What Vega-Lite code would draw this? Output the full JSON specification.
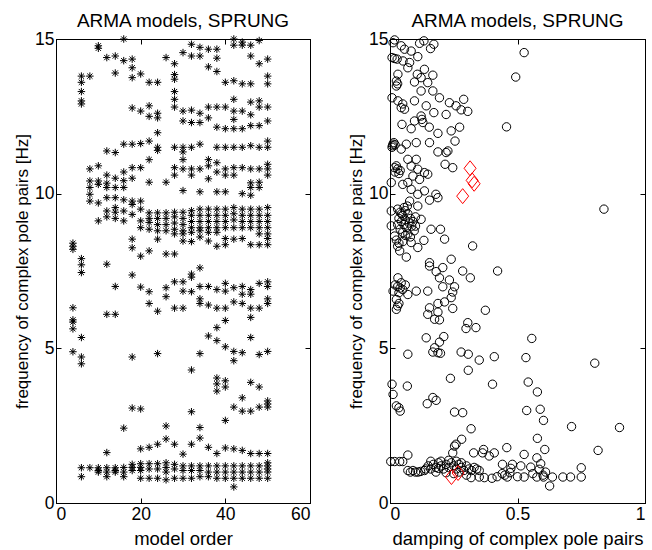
{
"$schema":"https://vega.github.io/schema/vega-lite/v6.json",
"padding":{"left":13,"top":11,"right":0,"bottom":0},
"bounds":"flush",
"spacing":80,
"config":{
"font":"Liberation Sans",
"view":{"stroke":"black","strokeWidth":1},
"axis":{"grid":false,"domainColor":"black","domainWidth":1,"tickColor":"black","labelColor":"black","titleColor":"black","labelFontSize":17.5,"titleFontSize":17,"titleFontWeight":"normal","tickSize":-5,"labelPadding":7,"titlePadding":3,"labelFont":"Liberation Sans","titleFont":"Liberation Sans"},
"axisX":{"titleFontSize":18.5,"titlePadding":7},
"title":{"fontSize":19,"fontWeight":"normal","color":"black","offset":-1,"font":"Liberation Sans"}
},
"datasets":{
"L":[
{"n":4,"f":8.4},{"n":4,"f":8.3},{"n":4,"f":8.2},{"n":4,"f":6.31},{"n":4,"f":5.92},{"n":4,"f":5.85},{"n":4,"f":5.63},{"n":4,"f":4.89},
{"n":6,"f":13.8},{"n":6,"f":13.6},{"n":6,"f":13.3},{"n":6,"f":13.0},{"n":6,"f":12.9},{"n":6,"f":7.9},{"n":6,"f":7.7},{"n":6,"f":7.45},{"n":6,"f":5.35},{"n":6,"f":4.72},{"n":6,"f":4.5},{"n":6,"f":1.14},{"n":6,"f":0.85},
{"n":8,"f":13.8},{"n":8,"f":10.8},{"n":8,"f":10.41},{"n":8,"f":10.2},{"n":8,"f":9.98},{"n":8,"f":9.76},{"n":8,"f":1.14},
{"n":10,"f":14.78},{"n":10,"f":14.7},{"n":10,"f":10.9},{"n":10,"f":10.41},{"n":10,"f":10.3},{"n":10,"f":9.7},{"n":10,"f":9.12},{"n":10,"f":1.14},{"n":10,"f":1.05},{"n":10,"f":1.0},
{"n":12,"f":14.4},{"n":12,"f":11.38},{"n":12,"f":10.6},{"n":12,"f":10.34},{"n":12,"f":10.2},{"n":12,"f":9.87},{"n":12,"f":9.44},{"n":12,"f":9.25},{"n":12,"f":7.72},{"n":12,"f":6.1},{"n":12,"f":1.63},{"n":12,"f":1.14},{"n":12,"f":1.0},{"n":12,"f":0.85},
{"n":14,"f":14.45},{"n":14,"f":13.9},{"n":14,"f":11.33},{"n":14,"f":10.5},{"n":14,"f":10.2},{"n":14,"f":9.87},{"n":14,"f":9.55},{"n":14,"f":9.4},{"n":14,"f":9.2},{"n":14,"f":7.0},{"n":14,"f":6.1},{"n":14,"f":1.14},{"n":14,"f":1.05},{"n":14,"f":1.0},
{"n":16,"f":15.0},{"n":16,"f":14.3},{"n":16,"f":11.6},{"n":16,"f":10.7},{"n":16,"f":10.42},{"n":16,"f":10.2},{"n":16,"f":9.8},{"n":16,"f":9.44},{"n":16,"f":9.12},{"n":16,"f":2.42},{"n":16,"f":1.15},{"n":16,"f":1.0},{"n":16,"f":0.85},
{"n":18,"f":14.35},{"n":18,"f":14.07},{"n":18,"f":13.75},{"n":18,"f":12.77},{"n":18,"f":11.6},{"n":18,"f":10.84},{"n":18,"f":10.5},{"n":18,"f":9.76},{"n":18,"f":9.65},{"n":18,"f":9.33},{"n":18,"f":8.53},{"n":18,"f":8.25},{"n":18,"f":7.37},{"n":18,"f":4.72},{"n":18,"f":3.07},{"n":18,"f":1.25},{"n":18,"f":1.15},{"n":18,"f":1.05},
{"n":20,"f":13.87},{"n":20,"f":12.67},{"n":20,"f":11.62},{"n":20,"f":10.84},{"n":20,"f":9.76},{"n":20,"f":9.5},{"n":20,"f":9.12},{"n":20,"f":8.9},{"n":20,"f":7.98},{"n":20,"f":6.98},{"n":20,"f":3.04},{"n":20,"f":1.75},{"n":20,"f":1.27},{"n":20,"f":1.15},{"n":20,"f":1.05},{"n":20,"f":0.8},
{"n":22,"f":13.6},{"n":22,"f":12.84},{"n":22,"f":12.5},{"n":22,"f":11.7},{"n":22,"f":11.1},{"n":22,"f":10.37},{"n":22,"f":9.38},{"n":22,"f":9.2},{"n":22,"f":9.07},{"n":22,"f":8.85},{"n":22,"f":8.15},{"n":22,"f":6.83},{"n":22,"f":6.45},{"n":22,"f":1.8},{"n":22,"f":1.27},{"n":22,"f":1.1},{"n":22,"f":0.8},
{"n":24,"f":13.6},{"n":24,"f":12.6},{"n":24,"f":12.45},{"n":24,"f":11.97},{"n":24,"f":11.5},{"n":24,"f":11.4},{"n":24,"f":9.38},{"n":24,"f":9.2},{"n":24,"f":9.0},{"n":24,"f":8.8},{"n":24,"f":8.53},{"n":24,"f":6.2},{"n":24,"f":4.83},{"n":24,"f":1.9},{"n":24,"f":1.27},{"n":24,"f":1.1},{"n":24,"f":0.8},
{"n":26,"f":14.4},{"n":26,"f":10.37},{"n":26,"f":9.38},{"n":26,"f":9.2},{"n":26,"f":9.0},{"n":26,"f":8.8},{"n":26,"f":8.05},{"n":26,"f":6.96},{"n":26,"f":6.67},{"n":26,"f":2.49},{"n":26,"f":2.07},{"n":26,"f":1.3},{"n":26,"f":1.15},{"n":26,"f":1.0},{"n":26,"f":0.75},
{"n":28,"f":14.2},{"n":28,"f":13.85},{"n":28,"f":13.7},{"n":28,"f":13.3},{"n":28,"f":13.05},{"n":28,"f":12.8},{"n":28,"f":11.5},{"n":28,"f":10.84},{"n":28,"f":10.6},{"n":28,"f":9.4},{"n":28,"f":9.25},{"n":28,"f":9.05},{"n":28,"f":8.85},{"n":28,"f":8.7},{"n":28,"f":8.05},{"n":28,"f":7.15},{"n":28,"f":6.3},{"n":28,"f":1.9},{"n":28,"f":1.25},{"n":28,"f":1.1},{"n":28,"f":0.8},
{"n":30,"f":14.56},{"n":30,"f":12.67},{"n":30,"f":12.35},{"n":30,"f":11.5},{"n":30,"f":11.35},{"n":30,"f":11.1},{"n":30,"f":10.8},{"n":30,"f":10.1},{"n":30,"f":9.4},{"n":30,"f":9.2},{"n":30,"f":9.0},{"n":30,"f":8.8},{"n":30,"f":8.7},{"n":30,"f":8.47},{"n":30,"f":7.15},{"n":30,"f":6.85},{"n":30,"f":6.3},{"n":30,"f":1.58},{"n":30,"f":1.2},{"n":30,"f":1.05},{"n":30,"f":0.8},
{"n":32,"f":14.83},{"n":32,"f":14.45},{"n":32,"f":12.7},{"n":32,"f":12.3},{"n":32,"f":11.5},{"n":32,"f":10.8},{"n":32,"f":10.6},{"n":32,"f":9.45},{"n":32,"f":9.3},{"n":32,"f":9.1},{"n":32,"f":8.9},{"n":32,"f":8.75},{"n":32,"f":8.45},{"n":32,"f":7.4},{"n":32,"f":7.3},{"n":32,"f":6.83},{"n":32,"f":4.3},{"n":32,"f":2.95},{"n":32,"f":1.9},{"n":32,"f":1.2},{"n":32,"f":1.05},{"n":32,"f":0.8},
{"n":34,"f":14.73},{"n":34,"f":14.45},{"n":34,"f":12.6},{"n":34,"f":12.3},{"n":34,"f":11.6},{"n":34,"f":10.8},{"n":34,"f":10.06},{"n":34,"f":9.5},{"n":34,"f":9.3},{"n":34,"f":9.1},{"n":34,"f":8.9},{"n":34,"f":8.8},{"n":34,"f":8.6},{"n":34,"f":7.6},{"n":34,"f":7.0},{"n":34,"f":6.6},{"n":34,"f":6.45},{"n":34,"f":4.83},{"n":34,"f":2.44},{"n":34,"f":2.1},{"n":34,"f":1.2},{"n":34,"f":1.05},{"n":34,"f":0.85},
{"n":36,"f":14.67},{"n":36,"f":14.1},{"n":36,"f":12.8},{"n":36,"f":12.45},{"n":36,"f":11.1},{"n":36,"f":10.9},{"n":36,"f":10.48},{"n":36,"f":9.5},{"n":36,"f":9.3},{"n":36,"f":9.1},{"n":36,"f":8.9},{"n":36,"f":8.75},{"n":36,"f":8.47},{"n":36,"f":7.0},{"n":36,"f":6.4},{"n":36,"f":5.4},{"n":36,"f":1.8},{"n":36,"f":1.2},{"n":36,"f":1.0},{"n":36,"f":0.85},
{"n":38,"f":14.67},{"n":38,"f":14.38},{"n":38,"f":13.95},{"n":38,"f":12.8},{"n":38,"f":12.15},{"n":38,"f":11.5},{"n":38,"f":11.0},{"n":38,"f":10.7},{"n":38,"f":10.06},{"n":38,"f":9.5},{"n":38,"f":9.3},{"n":38,"f":9.1},{"n":38,"f":8.9},{"n":38,"f":8.75},{"n":38,"f":8.3},{"n":38,"f":6.9},{"n":38,"f":6.3},{"n":38,"f":5.67},{"n":38,"f":5.25},{"n":38,"f":4.04},{"n":38,"f":3.85},{"n":38,"f":3.62},{"n":38,"f":1.6},{"n":38,"f":1.2},{"n":38,"f":1.0},{"n":38,"f":0.8},
{"n":40,"f":13.6},{"n":40,"f":12.8},{"n":40,"f":12.1},{"n":40,"f":11.5},{"n":40,"f":10.8},{"n":40,"f":10.6},{"n":40,"f":10.06},{"n":40,"f":9.5},{"n":40,"f":9.3},{"n":40,"f":9.1},{"n":40,"f":8.9},{"n":40,"f":8.55},{"n":40,"f":8.35},{"n":40,"f":7.1},{"n":40,"f":6.85},{"n":40,"f":6.3},{"n":40,"f":5.9},{"n":40,"f":5.05},{"n":40,"f":3.95},{"n":40,"f":3.75},{"n":40,"f":2.67},{"n":40,"f":1.78},{"n":40,"f":1.2},{"n":40,"f":1.0},{"n":40,"f":0.8},
{"n":42,"f":15.0},{"n":42,"f":14.8},{"n":42,"f":13.65},{"n":42,"f":13.05},{"n":42,"f":12.67},{"n":42,"f":12.4},{"n":42,"f":12.1},{"n":42,"f":11.5},{"n":42,"f":10.84},{"n":42,"f":10.6},{"n":42,"f":9.55},{"n":42,"f":9.35},{"n":42,"f":9.15},{"n":42,"f":8.9},{"n":42,"f":8.53},{"n":42,"f":6.96},{"n":42,"f":6.5},{"n":42,"f":4.9},{"n":42,"f":4.6},{"n":42,"f":3.1},{"n":42,"f":1.75},{"n":42,"f":1.2},{"n":42,"f":1.0},{"n":42,"f":0.8},{"n":42,"f":0.52},
{"n":44,"f":14.9},{"n":44,"f":14.8},{"n":44,"f":13.55},{"n":44,"f":12.67},{"n":44,"f":12.1},{"n":44,"f":11.5},{"n":44,"f":10.84},{"n":44,"f":10.0},{"n":44,"f":9.5},{"n":44,"f":9.3},{"n":44,"f":9.1},{"n":44,"f":8.9},{"n":44,"f":8.55},{"n":44,"f":7.0},{"n":44,"f":6.75},{"n":44,"f":6.45},{"n":44,"f":4.86},{"n":44,"f":3.4},{"n":44,"f":2.97},{"n":44,"f":1.7},{"n":44,"f":1.2},{"n":44,"f":1.0},{"n":44,"f":0.8},
{"n":46,"f":14.8},{"n":46,"f":14.45},{"n":46,"f":13.55},{"n":46,"f":12.96},{"n":46,"f":12.55},{"n":46,"f":12.2},{"n":46,"f":11.55},{"n":46,"f":10.8},{"n":46,"f":10.35},{"n":46,"f":10.2},{"n":46,"f":9.95},{"n":46,"f":9.5},{"n":46,"f":9.3},{"n":46,"f":9.1},{"n":46,"f":8.9},{"n":46,"f":8.35},{"n":46,"f":6.9},{"n":46,"f":6.75},{"n":46,"f":6.3},{"n":46,"f":6.0},{"n":46,"f":5.35},{"n":46,"f":3.9},{"n":46,"f":2.97},{"n":46,"f":1.6},{"n":46,"f":1.2},{"n":46,"f":1.0},{"n":46,"f":0.8},
{"n":48,"f":14.95},{"n":48,"f":14.2},{"n":48,"f":13.0},{"n":48,"f":12.8},{"n":48,"f":12.2},{"n":48,"f":11.5},{"n":48,"f":10.8},{"n":48,"f":10.37},{"n":48,"f":10.2},{"n":48,"f":9.5},{"n":48,"f":9.3},{"n":48,"f":9.1},{"n":48,"f":8.9},{"n":48,"f":8.7},{"n":48,"f":8.35},{"n":48,"f":7.1},{"n":48,"f":6.3},{"n":48,"f":4.8},{"n":48,"f":3.75},{"n":48,"f":3.1},{"n":48,"f":1.6},{"n":48,"f":1.2},{"n":48,"f":1.0},{"n":48,"f":0.8},
{"n":50,"f":14.35},{"n":50,"f":13.8},{"n":50,"f":13.55},{"n":50,"f":12.8},{"n":50,"f":12.35},{"n":50,"f":11.7},{"n":50,"f":11.5},{"n":50,"f":10.95},{"n":50,"f":10.8},{"n":50,"f":10.6},{"n":50,"f":9.55},{"n":50,"f":9.3},{"n":50,"f":9.1},{"n":50,"f":8.9},{"n":50,"f":8.7},{"n":50,"f":8.55},{"n":50,"f":8.35},{"n":50,"f":7.15},{"n":50,"f":7.0},{"n":50,"f":6.6},{"n":50,"f":6.45},{"n":50,"f":4.9},{"n":50,"f":3.3},{"n":50,"f":3.2},{"n":50,"f":3.1},{"n":50,"f":1.6},{"n":50,"f":1.3},{"n":50,"f":1.2},{"n":50,"f":1.1},{"n":50,"f":1.0},{"n":50,"f":0.8}
],
"R":[
{"d":0.018,"f":14.97},{"d":0.012,"f":14.88},{"d":0.044,"f":14.78},{"d":0.116,"f":14.86},{"d":0.133,"f":14.94},{"d":0.172,"f":14.83},{"d":0.159,"f":14.69},{"d":0.057,"f":14.67},{"d":0.083,"f":14.61},{"d":0.008,"f":14.4},{"d":0.018,"f":14.37},{"d":0.028,"f":14.35},{"d":0.109,"f":14.43},{"d":0.051,"f":14.29},{"d":0.077,"f":14.24},{"d":0.07,"f":14.07},{"d":0.526,"f":14.56},{"d":0.493,"f":13.77},{"d":0.031,"f":13.86},{"d":0.135,"f":14.02},{"d":0.107,"f":13.86},{"d":0.122,"f":13.75},{"d":0.168,"f":13.83},{"d":0.025,"f":13.64},{"d":0.025,"f":13.48},{"d":0.03,"f":13.55},{"d":0.096,"f":13.61},{"d":0.148,"f":13.59},{"d":0.122,"f":13.32},{"d":0.168,"f":13.32},{"d":0.008,"f":13.1},{"d":0.031,"f":13.0},{"d":0.057,"f":12.73},{"d":0.044,"f":12.78},{"d":0.05,"f":12.9},{"d":0.096,"f":13.0},{"d":0.142,"f":12.84},{"d":0.194,"f":13.1},{"d":0.233,"f":12.94},{"d":0.289,"f":13.05},{"d":0.259,"f":12.84},{"d":0.279,"f":12.71},{"d":0.305,"f":12.66},{"d":0.22,"f":12.56},{"d":0.172,"f":12.62},{"d":0.122,"f":12.51},{"d":0.129,"f":12.3},{"d":0.125,"f":12.4},{"d":0.096,"f":12.35},{"d":0.047,"f":12.24},{"d":0.083,"f":12.1},{"d":0.154,"f":12.15},{"d":0.188,"f":11.95},{"d":0.24,"f":12.03},{"d":0.273,"f":12.15},{"d":0.457,"f":12.16},{"d":0.255,"f":11.7},{"d":0.012,"f":11.6},{"d":0.01,"f":11.55},{"d":0.015,"f":11.65},{"d":0.008,"f":11.5},{"d":0.02,"f":11.58},{"d":0.064,"f":11.6},{"d":0.103,"f":11.65},{"d":0.155,"f":11.65},{"d":0.044,"f":11.44},{"d":0.188,"f":11.35},{"d":0.227,"f":11.38},{"d":0.22,"f":11.33},{"d":0.07,"f":11.11},{"d":0.103,"f":11.11},{"d":0.216,"f":10.95},{"d":0.246,"f":10.84},
{"d":0.018,"f":10.84},{"d":0.03,"f":10.8},{"d":0.02,"f":10.7},{"d":0.035,"f":10.65},{"d":0.025,"f":10.9},{"d":0.04,"f":10.75},{"d":0.083,"f":10.89},{"d":0.109,"f":10.79},{"d":0.135,"f":10.68},{"d":0.148,"f":10.63},{"d":0.09,"f":10.57},{"d":0.116,"f":10.46},{"d":0.07,"f":10.36},{"d":0.05,"f":10.3},{"d":0.005,"f":10.36},{"d":0.083,"f":10.14},{"d":0.135,"f":10.09},{"d":0.18,"f":9.98},{"d":0.188,"f":9.87},{"d":0.109,"f":9.98},{"d":0.155,"f":9.79},{"d":0.077,"f":9.76},{"d":0.109,"f":9.6},{"d":0.839,"f":9.5},
{"d":0.005,"f":9.44},{"d":0.005,"f":8.96},{"d":0.03,"f":9.5},{"d":0.04,"f":9.4},{"d":0.05,"f":9.3},{"d":0.06,"f":9.45},{"d":0.07,"f":9.35},{"d":0.08,"f":9.2},{"d":0.09,"f":9.1},{"d":0.035,"f":9.2},{"d":0.045,"f":9.1},{"d":0.055,"f":9.0},{"d":0.065,"f":8.9},{"d":0.075,"f":9.05},{"d":0.085,"f":8.95},{"d":0.095,"f":8.8},{"d":0.04,"f":8.85},{"d":0.05,"f":8.75},{"d":0.06,"f":8.65},{"d":0.07,"f":8.7},{"d":0.08,"f":8.6},{"d":0.03,"f":9.0},{"d":0.06,"f":9.15},{"d":0.1,"f":9.25},{"d":0.1,"f":8.95},{"d":0.045,"f":9.35},{"d":0.055,"f":9.55},{"d":0.068,"f":9.6},{"d":0.122,"f":9.17},{"d":0.161,"f":8.85},{"d":0.198,"f":8.85},{"d":0.214,"f":8.53},{"d":0.133,"f":8.49},{"d":0.018,"f":8.63},{"d":0.025,"f":8.5},{"d":0.035,"f":8.4},{"d":0.05,"f":8.45},{"d":0.03,"f":8.3},{"d":0.083,"f":8.42},{"d":0.109,"f":8.26},{"d":0.038,"f":8.15},{"d":0.064,"f":7.95},{"d":0.324,"f":8.31},{"d":0.24,"f":7.88},{"d":0.155,"f":7.77},{"d":0.207,"f":7.61},{"d":0.285,"f":7.5},{"d":0.422,"f":7.5},{"d":0.181,"f":7.48},
{"d":0.315,"f":7.28},{"d":0.155,"f":7.66},{"d":0.194,"f":7.28},{"d":0.233,"f":7.21},{"d":0.031,"f":7.28},{"d":0.044,"f":7.12},{"d":0.03,"f":7.0},{"d":0.04,"f":6.95},{"d":0.05,"f":6.9},{"d":0.02,"f":7.05},{"d":0.06,"f":7.05},{"d":0.035,"f":6.8},{"d":0.012,"f":6.85},{"d":0.253,"f":6.99},{"d":0.246,"f":6.82},{"d":0.207,"f":6.99},{"d":0.07,"f":6.74},{"d":0.103,"f":6.85},{"d":0.148,"f":6.85},{"d":0.24,"f":6.64},{"d":0.214,"f":6.5},{"d":0.188,"f":6.45},{"d":0.025,"f":6.58},{"d":0.03,"f":6.37},{"d":0.025,"f":6.26},{"d":0.035,"f":6.45},{"d":0.155,"f":6.31},{"d":0.148,"f":6.1},{"d":0.188,"f":6.17},{"d":0.175,"f":5.94},{"d":0.194,"f":5.92},{"d":0.246,"f":6.29},{"d":0.374,"f":6.23},{"d":0.305,"f":5.83},{"d":0.298,"f":5.64},{"d":0.337,"f":5.67},{"d":0.142,"f":5.34},{"d":0.211,"f":5.38},{"d":0.194,"f":5.2},{"d":0.556,"f":5.32},{"d":0.175,"f":5.02},{"d":0.168,"f":4.88},{"d":0.188,"f":4.86},{"d":0.198,"f":4.84},{"d":0.07,"f":4.81},{"d":0.279,"f":4.88},{"d":0.307,"f":4.81},{"d":0.35,"f":4.62},{"d":0.409,"f":4.73},{"d":0.533,"f":4.7},{"d":0.803,"f":4.52},{"d":0.307,"f":4.29},{"d":0.237,"f":4.03},{"d":0.008,"f":3.84},{"d":0.068,"f":3.78},{"d":0.402,"f":3.84},{"d":0.542,"f":3.91},{"d":0.012,"f":3.51},{"d":0.578,"f":3.59},{"d":0.168,"f":3.41},{"d":0.181,"f":3.32},{"d":0.146,"f":3.21},{"d":0.025,"f":3.14},{"d":0.035,"f":3.08},{"d":0.04,"f":2.97},{"d":0.253,"f":2.94},{"d":0.285,"f":2.92},{"d":0.536,"f":2.99},{"d":0.589,"f":3.03},{"d":0.602,"f":2.67},{"d":0.712,"f":2.47},{"d":0.9,"f":2.44},{"d":0.318,"f":2.4},{"d":0.578,"f":2.09},{"d":0.281,"f":2.06},{"d":0.259,"f":1.9},{"d":0.253,"f":1.84},{"d":0.607,"f":1.73},{"d":0.816,"f":1.7},{"d":0.246,"f":1.62},{"d":0.328,"f":1.62},{"d":0.367,"f":1.73},{"d":0.363,"f":1.62},{"d":0.389,"f":1.52},{"d":0.409,"f":1.62},{"d":0.458,"f":1.79},{"d":0.526,"f":1.57},{"d":0.576,"f":1.46},{"d":0.07,"f":1.55},{"d":0.591,"f":1.27},{"d":0.75,"f":1.14},{"d":0.003,"f":1.34},{"d":0.018,"f":1.34},{"d":0.038,"f":1.34},{"d":0.05,"f":1.34},
{"d":0.07,"f":1.05},{"d":0.08,"f":1.0},{"d":0.09,"f":1.05},{"d":0.1,"f":1.0},{"d":0.11,"f":1.0},{"d":0.12,"f":1.02},{"d":0.135,"f":1.05},{"d":0.15,"f":1.2},{"d":0.16,"f":1.1},{"d":0.17,"f":1.25},{"d":0.18,"f":1.15},{"d":0.19,"f":1.3},{"d":0.2,"f":1.2},{"d":0.21,"f":1.1},{"d":0.22,"f":1.25},{"d":0.23,"f":1.15},{"d":0.24,"f":1.3},{"d":0.25,"f":1.2},{"d":0.26,"f":1.1},{"d":0.27,"f":1.25},{"d":0.28,"f":1.15},{"d":0.29,"f":1.05},{"d":0.3,"f":1.2},{"d":0.31,"f":1.1},{"d":0.32,"f":1.05},{"d":0.33,"f":1.15},{"d":0.34,"f":1.1},{"d":0.35,"f":1.05},{"d":0.16,"f":1.35},{"d":0.2,"f":1.35},{"d":0.23,"f":1.38},{"d":0.26,"f":1.35},{"d":0.18,"f":1.0},{"d":0.22,"f":0.98},{"d":0.25,"f":0.95},{"d":0.3,"f":0.9},{"d":0.27,"f":1.0},{"d":0.14,"f":1.1},{"d":0.19,"f":1.12},{"d":0.28,"f":1.3},
{"d":0.441,"f":1.25},{"d":0.474,"f":1.12},{"d":0.48,"f":1.25},{"d":0.513,"f":1.2},{"d":0.552,"f":1.16},{"d":0.585,"f":1.09},{"d":0.44,"f":0.95},{"d":0.45,"f":0.9},{"d":0.47,"f":0.98},{"d":0.37,"f":0.82},{"d":0.4,"f":0.8},{"d":0.526,"f":0.84},{"d":0.576,"f":0.84},{"d":0.602,"f":0.84},{"d":0.637,"f":0.84},{"d":0.678,"f":0.84},{"d":0.708,"f":0.84},{"d":0.75,"f":0.84},{"d":0.626,"f":0.55},{"d":0.318,"f":0.82},{"d":0.35,"f":0.84},{"d":0.42,"f":0.85},{"d":0.5,"f":0.85},{"d":0.46,"f":0.84},{"d":0.56,"f":0.95},{"d":0.6,"f":0.9},{"d":0.61,"f":1.0}
],
"D":[
{"d":0.314,"f":10.82},{"d":0.322,"f":10.43},{"d":0.33,"f":10.32},{"d":0.285,"f":9.92},{"d":0.241,"f":0.84},{"d":0.267,"f":0.97}
]
},
"hconcat":[
{"width":254,"height":464,"title":"ARMA models, SPRUNG",
"layer":[
{"data":{"name":"L"},"mark":{"type":"point","shape":"M-1,0L1,0M0,-1L0,1M-0.7,-0.7L0.7,0.7M-0.7,0.7L0.7,-0.7","size":56,"stroke":"black","strokeWidth":1,"filled":false,"opacity":1},
"encoding":{
"x":{"field":"n","type":"quantitative","scale":{"domain":[0,60],"nice":false,"zero":false},"axis":{"values":[0,20,40,60],"title":"model order"}},
"y":{"field":"f","type":"quantitative","scale":{"domain":[0,15],"nice":false},"axis":{"values":[0,5,10,15],"title":"frequency of complex pole pairs [Hz]"}}}},
{"data":{"name":"L"},"mark":{"type":"point","opacity":0},
"encoding":{
"x":{"field":"n","type":"quantitative","scale":{"domain":[0,60],"nice":false,"zero":false},"axis":{"orient":"top","values":[0,20,40,60],"labels":false,"title":null}},
"y":{"field":"f","type":"quantitative","scale":{"domain":[0,15],"nice":false},"axis":{"orient":"right","values":[0,5,10,15],"labels":false,"title":null}}}}
],
"resolve":{"axis":{"x":"independent","y":"independent"}}
},
{"width":255,"height":464,"title":"ARMA models, SPRUNG",
"layer":[
{"data":{"name":"R"},"mark":{"type":"point","shape":"circle","size":70,"stroke":"black","strokeWidth":1,"filled":false,"opacity":1},
"encoding":{
"x":{"field":"d","type":"quantitative","scale":{"domain":[0,1],"nice":false},"axis":{"values":[0,0.5,1],"format":"~g","title":"damping of complex pole pairs"}},
"y":{"field":"f","type":"quantitative","scale":{"domain":[0,15],"nice":false},"axis":{"values":[0,5,10,15],"title":"frequency of complex pole pairs [Hz]"}}}},
{"data":{"name":"D"},"mark":{"type":"point","shape":"M0,-1L0.8,0L0,1L-0.8,0Z","size":225,"stroke":"#ff0000","strokeWidth":1,"filled":false,"opacity":1},
"encoding":{
"x":{"field":"d","type":"quantitative","scale":{"domain":[0,1],"nice":false},"axis":{"orient":"top","values":[0,0.5,1],"labels":false,"title":null}},
"y":{"field":"f","type":"quantitative","scale":{"domain":[0,15],"nice":false},"axis":{"orient":"right","values":[0,5,10,15],"labels":false,"title":null}}}}
],
"resolve":{"axis":{"x":"independent","y":"independent"}}
}
]
}
